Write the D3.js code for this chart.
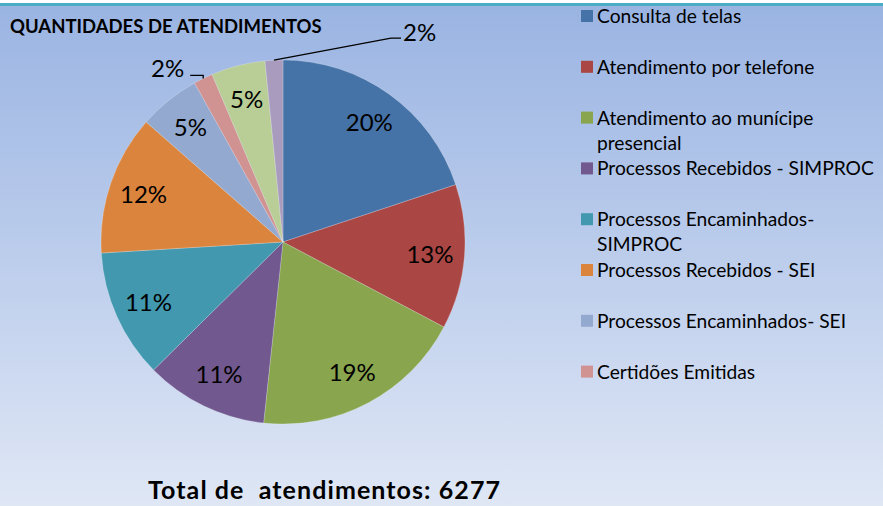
<!DOCTYPE html>
<html><head><meta charset="utf-8">
<script src="https://cdn.jsdelivr.net/npm/d3@7"></script>
<style>html,body{margin:0;padding:0;background:#fff;}svg{display:block;}</style>
</head><body>
<svg id="chart" width="883" height="506"></svg>
<script>
const categories = [
  "Consulta de telas",
  "Atendimento por telefone",
  "Atendimento ao munícipe presencial",
  "Processos Recebidos - SIMPROC",
  "Processos Encaminhados- SIMPROC",
  "Processos Recebidos - SEI",
  "Processos Encaminhados- SEI",
  "Certidões Emitidas",
  "Outros (1)",
  "Outros (2)"
];
const values = [1249, 806, 1190, 684, 718, 780, 343, 107, 301, 99];
const colors = ["#4572A7","#AA4643","#89A54E","#71588F","#4198AF","#DB843D","#93A9CF","#D19392","#B9CD96","#A99BBD"];
// legend shows only the first 8 entries (rest clipped in the original)
const legendLines = [
  ["Consulta de telas"],
  ["Atendimento por telefone"],
  ["Atendimento ao munícipe", "presencial"],
  ["Processos Recebidos - SIMPROC"],
  ["Processos Encaminhados-", "SIMPROC"],
  ["Processos Recebidos - SEI"],
  ["Processos Encaminhados- SEI"],
  ["Certidões Emitidas"]
];
const title = "QUANTIDADES DE ATENDIMENTOS";
const totalLabel = "Total de  atendimentos: 6277";

const W = 883, H = 506;
const svg = d3.select("#chart");
const defs = svg.append("defs");
const bg = defs.append("linearGradient").attr("id","bg").attr("x1",0).attr("y1",0).attr("x2",0).attr("y2",1);
bg.append("stop").attr("offset","0%").attr("stop-color","#9AB4E2");
bg.append("stop").attr("offset","50%").attr("stop-color","#BCCDEC");
bg.append("stop").attr("offset","100%").attr("stop-color","#DFE7F5");
svg.append("rect").attr("width",W).attr("height",H).attr("fill","#fff");
svg.append("rect").attr("x",0).attr("y",5).attr("width",W).attr("height",H-5).attr("fill","url(#bg)");
svg.append("rect").attr("x",0).attr("y",3).attr("width",W).attr("height",3).attr("fill","#4BACC6");

const font = "Lato, 'Open Sans', sans-serif";

svg.append("text").attr("x",10).attr("y",33)
  .attr("font-family",font).attr("font-weight","bold").attr("font-size",18.5)
  .attr("fill","#000").text(title);

const cx = 283, cy = 242, R = 182;
const g = svg.append("g").attr("transform",`translate(${cx},${cy})`);
const pie = d3.pie().sort(null).value(d => d);
const arcs = pie(values);
const arc = d3.arc().innerRadius(0).outerRadius(R);
g.selectAll("path.slice").data(arcs).join("path").attr("class","slice")
  .attr("d",arc).attr("fill",(d,i)=>colors[i])
  .attr("stroke","rgba(255,255,255,0.35)").attr("stroke-width",0.6);

const total = d3.sum(values);
const fmt = d3.format(".0%");
const labelArc = d3.arc().innerRadius(R*0.81).outerRadius(R*0.81);
const outside = new Set([7, 9]);
const labelSize = 24;
arcs.forEach((d,i) => {
  const txt = fmt(values[i]/total);
  if (!outside.has(i)) {
    const [x,y] = labelArc.centroid(d);
    g.append("text").attr("x",x).attr("y",y).attr("dy","0.36em")
      .attr("text-anchor","middle").attr("font-family",font).attr("font-size",labelSize)
      .attr("fill","#000").text(txt);
  }
});
function edgePoint(d, r) {
  const a = (d.startAngle + d.endAngle)/2;
  return [Math.sin(a)*r, -Math.cos(a)*r];
}
{ // lavender slice (index 9): leader to upper right
  const d = arcs[9];
  const [x0,y0] = edgePoint(d, R);
  const x1 = x0 + 117, y1 = y0 - 22;
  const x2 = x1 + 10;
  g.append("polyline").attr("points",`${x0},${y0} ${x1},${y1} ${x2},${y1}`)
    .attr("fill","none").attr("stroke","#000").attr("stroke-width",1.3);
  g.append("text").attr("x",x2+2).attr("y",y1-6).attr("dy","0.36em")
    .attr("font-family",font).attr("font-size",labelSize).attr("fill","#000")
    .text(fmt(values[9]/total));
}
{ // pink slice (index 7): leader to the left
  const d = arcs[7];
  const [x0,y0] = edgePoint(d, R);
  const x1 = x0, y1 = y0 - 3;
  const x2 = x1 - 13;
  g.append("polyline").attr("points",`${x0},${y0} ${x1},${y1} ${x2},${y1}`)
    .attr("fill","none").attr("stroke","#000").attr("stroke-width",1.3);
  g.append("text").attr("x",x2-6).attr("y",y1-7).attr("dy","0.36em")
    .attr("text-anchor","end").attr("font-family",font).attr("font-size",labelSize).attr("fill","#000")
    .text(fmt(values[7]/total));
}

// legend
const lg = svg.append("g");
legendLines.forEach((lines,i) => {
  const y = 16 + i*50.8;
  lg.append("rect").attr("x",581).attr("y",y-6).attr("width",12).attr("height",12).attr("fill",colors[i]);
  lines.forEach((t,j) => {
    lg.append("text").attr("x",597).attr("y",y + j*25).attr("dy","0.36em")
      .attr("font-family",font).attr("font-size",19.2).attr("fill","#000").text(t);
  });
});

svg.append("text").attr("x",148).attr("y",499)
  .attr("font-family",font).attr("font-weight","bold").attr("font-size",25)
  .attr("textLength",352).attr("lengthAdjust","spacing")
  .attr("fill","#000").style("white-space","pre").text(totalLabel);
</script>
</body></html>
